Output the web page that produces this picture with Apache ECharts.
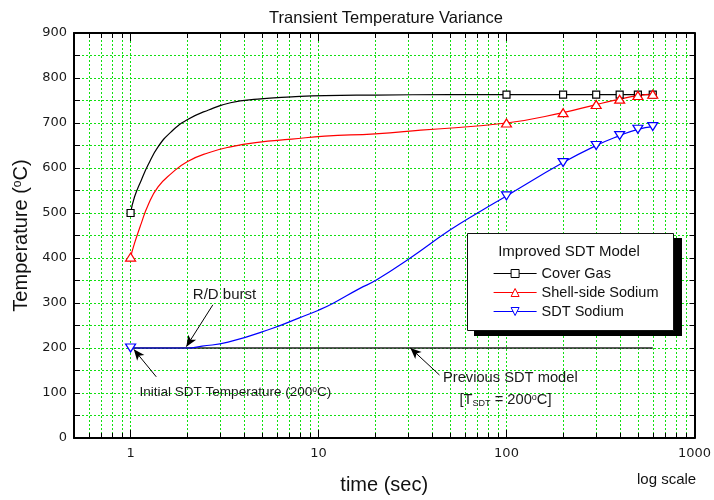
<!DOCTYPE html>
<html>
<head>
<meta charset="utf-8">
<script src="https://cdn.jsdelivr.net/npm/echarts@6/dist/echarts.min.js"></script>
<style>
  html, body { margin: 0; padding: 0; background: #fff; }
  #chart { width: 714px; height: 500px; }
</style>
</head>
<body>
<div id="chart"></div>
<script>
// ---- Improved SDT model: temperatures (°C) against time (s) ----
const coverGasTime = [1, 1.05, 1.14, 1.24, 1.4, 1.65, 2.0, 2.6, 3.4, 4.75, 7.2, 10.8, 20, 50, 100, 200, 300, 400, 500, 600];
const coverGasTemp = [500, 536, 573, 607, 647, 681, 707, 729, 745, 753, 758, 761, 762, 763, 763, 763, 763, 763, 763, 763];
const coverGasMarked = [1, 100, 200, 300, 400, 500, 600];

const shellTime = [1, 1.05, 1.14, 1.24, 1.4, 1.65, 2.0, 2.6, 3.4, 4.75, 7.2, 10.8, 20, 35, 100, 200, 300, 400, 500, 600];
const shellTemp = [402, 433, 477, 518, 558, 588, 614, 634, 647, 657, 664, 671, 676, 684, 700, 723, 741, 753, 761, 764];
const shellMarked = [1, 100, 200, 300, 400, 500, 600];

const sdtTime = [1, 2, 2.4, 3.3, 5.7, 7.9, 10, 11.9, 16.5, 20.3, 30.5, 50, 72, 100, 200, 300, 400, 500, 600];
const sdtTemp = [200, 200, 204, 213, 244, 267, 284, 299, 332, 351, 399, 462, 503, 538, 612, 650, 672, 686, 692];
const sdtMarked = [1, 100, 200, 300, 400, 500, 600];

// ---- Previous SDT model: constant sodium temperature ----
const previousTime = [1, 600];
const previousTemp = [200, 200];

// ---- Axes ----
const timeMin = 0.5, timeMax = 1000;
const tempMin = 0, tempMax = 900, tempStep = 100;
const minorTimes = [0.6, 0.7, 0.8, 0.9, 2, 3, 4, 5, 6, 7, 8, 9, 20, 30, 40, 50, 60, 70, 80, 90,
                    200, 300, 400, 500, 600, 700, 800, 900];

// ---- Callout arrows: [fromTime, fromTemp, toTime, toTemp] ----
const arrowRD = [2.74, 296, 1.98, 203];
const arrowInitial = [1.37, 136, 1.04, 197];
const arrowPrevious = [44, 140, 30.8, 200];

const GRID_GREEN = '#10e010';
const TEXT_FONT = 'Liberation Sans, Arial, sans-serif';
const TICK_FONT = 'DejaVu Sans, Verdana, sans-serif';
const COLORS = { cover: '#000000', shell: '#ff0000', sdt: '#0000ff' };

function pairs(xs, ys, marked) {
  return xs.map((x, i) => {
    const item = { value: [x, ys[i]] };
    if (marked && marked.indexOf(x) < 0) item.symbol = 'none';
    return item;
  });
}

const chart = echarts.init(document.getElementById('chart'), null, { renderer: 'canvas' });

const dottedGrid = { show: true, lineStyle: { color: GRID_GREEN, type: [2, 2], width: 1 } };

function arrowLine(a) {
  return [
    { coord: [a[0], a[1]], symbol: 'none' },
    { coord: [a[2], a[3]], symbol: 'arrow', symbolSize: [7, 11] }
  ];
}

function legendEntry(name, color) {
  return {
    name: name,
    lineStyle: { color: color, width: 1.2 },
    itemStyle: { color: '#fff', borderColor: color, borderWidth: 1 }
  };
}

const option = {
  animation: false,
  backgroundColor: '#fff',
  grid: { left: 74, right: 18, top: 33, bottom: 62 },
  xAxis: [
    {
      type: 'log', logBase: 10, min: timeMin, max: timeMax, position: 'bottom',
      axisLine: { onZero: false, lineStyle: { color: '#000', width: 2 } },
      axisTick: { inside: true, length: 8, lineStyle: { color: '#000', width: 1 } },
      axisLabel: {
        margin: 9, color: '#1a1a1a', fontFamily: TICK_FONT, fontSize: 13,
        formatter: v => (v >= 1 ? String(Math.round(v)) : '')
      },
      splitLine: dottedGrid,
      name: 'time (sec)', nameLocation: 'middle', nameGap: 37,
      nameTextStyle: { fontFamily: TEXT_FONT, fontSize: 20, color: '#111' }
    },
    {
      type: 'log', logBase: 10, min: timeMin, max: timeMax, position: 'top',
      axisLine: { onZero: false, lineStyle: { color: '#000', width: 2 } },
      axisTick: { inside: true, length: 8, lineStyle: { color: '#000', width: 1 } },
      axisLabel: { show: false },
      splitLine: { show: false }
    }
  ],
  yAxis: [
    {
      type: 'value', min: tempMin, max: tempMax, interval: tempStep, position: 'left',
      axisLine: { show: true, onZero: false, lineStyle: { color: '#000', width: 2 } },
      axisTick: { show: true, inside: true, length: 6, lineStyle: { color: '#000' } },
      minorTick: { show: true, splitNumber: 2, length: 6, lineStyle: { color: '#000' } },
      axisLabel: { margin: 7, color: '#1a1a1a', fontFamily: TICK_FONT, fontSize: 13 },
      splitLine: dottedGrid,
      minorSplitLine: dottedGrid,
      name: 'Temperature ({sup|o}C)', nameLocation: 'middle', nameGap: 42,
      nameTextStyle: {
        fontFamily: TEXT_FONT, fontSize: 20, color: '#111',
        rich: { sup: { fontFamily: TEXT_FONT, fontSize: 12, color: '#111', verticalAlign: 'top' } }
      }
    },
    {
      type: 'value', min: tempMin, max: tempMax, interval: tempStep, position: 'right',
      axisLine: { show: true, onZero: false, lineStyle: { color: '#000', width: 2 } },
      axisTick: { show: true, inside: true, length: 5, lineStyle: { color: '#000' } },
      minorTick: { show: true, splitNumber: 2, length: 5, lineStyle: { color: '#000' } },
      axisLabel: { show: false },
      splitLine: { show: false }
    }
  ],
  legend: {
    data: [
      legendEntry('Cover Gas', COLORS.cover),
      legendEntry('Shell-side Sodium', COLORS.shell),
      legendEntry('SDT Sodium', COLORS.sdt)
    ],
    orient: 'vertical', left: 488, top: 261,
    itemWidth: 43, itemHeight: 10, itemGap: 4,
    selectedMode: false, z: 20,
    textStyle: { fontFamily: TEXT_FONT, fontSize: 14.5, color: '#111' }
  },
  series: [
    {
      // log-axis minor gridlines and minor ticks on the top and bottom frame
      type: 'custom', name: 'minor grid', xAxisIndex: 0, yAxisIndex: 0, z: 1, silent: true,
      data: minorTimes.map(t => [t, tempMin]),
      renderItem: (params, api) => {
        const b = api.coord([api.value(0), tempMin]);
        const t = api.coord([api.value(0), tempMax]);
        const x = Math.round(b[0]) + 0.5;
        return {
          type: 'group',
          children: [
            { type: 'line', shape: { x1: x, y1: b[1], x2: x, y2: t[1] },
              style: { stroke: GRID_GREEN, lineWidth: 1, lineDash: [2, 2] } },
            { type: 'line', shape: { x1: x, y1: b[1], x2: x, y2: b[1] - 5 },
              style: { stroke: '#000', lineWidth: 1 } },
            { type: 'line', shape: { x1: x, y1: t[1], x2: x, y2: t[1] + 5 },
              style: { stroke: '#000', lineWidth: 1 } }
          ]
        };
      }
    },
    {
      name: 'Previous SDT model', type: 'line', silent: true,
      data: pairs(previousTime, previousTemp),
      symbol: 'none',
      lineStyle: { color: '#222', width: 1.3 },
      markLine: {
        silent: true, animation: false,
        label: { show: false },
        lineStyle: { color: '#000', width: 1, type: 'solid' },
        emphasis: { disabled: true },
        data: [arrowLine(arrowRD), arrowLine(arrowInitial), arrowLine(arrowPrevious)]
      }
    },
    {
      name: 'Cover Gas', type: 'line', smooth: 0.5,
      data: pairs(coverGasTime, coverGasTemp, coverGasMarked),
      symbol: 'rect', symbolSize: 7,
      color: COLORS.cover,
      itemStyle: { color: '#fff', borderColor: COLORS.cover, borderWidth: 1.2 },
      lineStyle: { color: COLORS.cover, width: 1.2 }
    },
    {
      name: 'Shell-side Sodium', type: 'line', smooth: 0.5,
      data: pairs(shellTime, shellTemp, shellMarked),
      symbol: 'triangle', symbolSize: [10, 8],
      color: COLORS.shell,
      itemStyle: { color: '#fff', borderColor: COLORS.shell, borderWidth: 1.2 },
      lineStyle: { color: COLORS.shell, width: 1.2 }
    },
    {
      name: 'SDT Sodium', type: 'line', smooth: 0.5,
      data: pairs(sdtTime, sdtTemp, sdtMarked),
      symbol: 'triangle', symbolSize: [10, 8], symbolRotate: 180,
      color: COLORS.sdt,
      itemStyle: { color: '#fff', borderColor: COLORS.sdt, borderWidth: 1.2 },
      lineStyle: { color: COLORS.sdt, width: 1.2 }
    }
  ]
};

chart.setOption(option);

// ---- Text annotations, anchored in data space ----
const px = (t, v) => chart.convertToPixel({ gridIndex: 0 }, [t, v]);
const noteStyle = (text, size, extra) => Object.assign({
  text: text, fontFamily: TEXT_FONT, fontSize: size, fill: '#1a1a1a',
  align: 'center', verticalAlign: 'middle'
}, extra || {});

const pRD = px(3.16, 318);
const pInit = px(3.61, 102);
const pPrev = px(104.8, 133);
const pPrev2 = px(98.8, 84);

chart.setOption({
  graphic: [
    { type: 'text', x: 386, y: 18.5, z: 30,
      style: noteStyle('Transient Temperature Variance', 16.5, { fill: '#111' }) },
    { type: 'text', x: 637, y: 480, z: 30,
      style: noteStyle('log scale', 15, { align: 'left', fill: '#111' }) },
    { type: 'text', x: pRD[0], y: pRD[1], z: 30, style: noteStyle('R/D burst', 15) },
    { type: 'text', x: pInit[0], y: pInit[1], z: 30,
      style: noteStyle('Initial SDT Temperature (200{sup|o}C)', 13.5, {
        rich: { sup: { fontFamily: TEXT_FONT, fontSize: 8.5, fill: '#1a1a1a', verticalAlign: 'top' } }
      }) },
    { type: 'text', x: pPrev[0], y: pPrev[1], z: 30, style: noteStyle('Previous SDT model', 14.7) },
    { type: 'text', x: pPrev2[0], y: pPrev2[1], z: 30,
      style: noteStyle('[T{sub|SDT} = 200{sup|o}C]', 14.7, {
        rich: {
          sub: { fontFamily: TEXT_FONT, fontSize: 9, fill: '#1a1a1a', verticalAlign: 'bottom' },
          sup: { fontFamily: TEXT_FONT, fontSize: 9, fill: '#1a1a1a', verticalAlign: 'top' }
        }
      }) },
    // legend frame with drop shadow and heading
    { type: 'rect', z: 10, silent: true,
      shape: { x: 474, y: 238, width: 208, height: 98 }, style: { fill: '#000' } },
    { type: 'rect', z: 11, silent: true,
      shape: { x: 467.5, y: 233.5, width: 206, height: 97 },
      style: { fill: '#fff', stroke: '#111', lineWidth: 1 } },
    { type: 'text', x: 569, y: 252, z: 12,
      style: noteStyle('Improved SDT Model', 15, { fill: '#111' }) }
  ]
});
</script>
</body>
</html>
